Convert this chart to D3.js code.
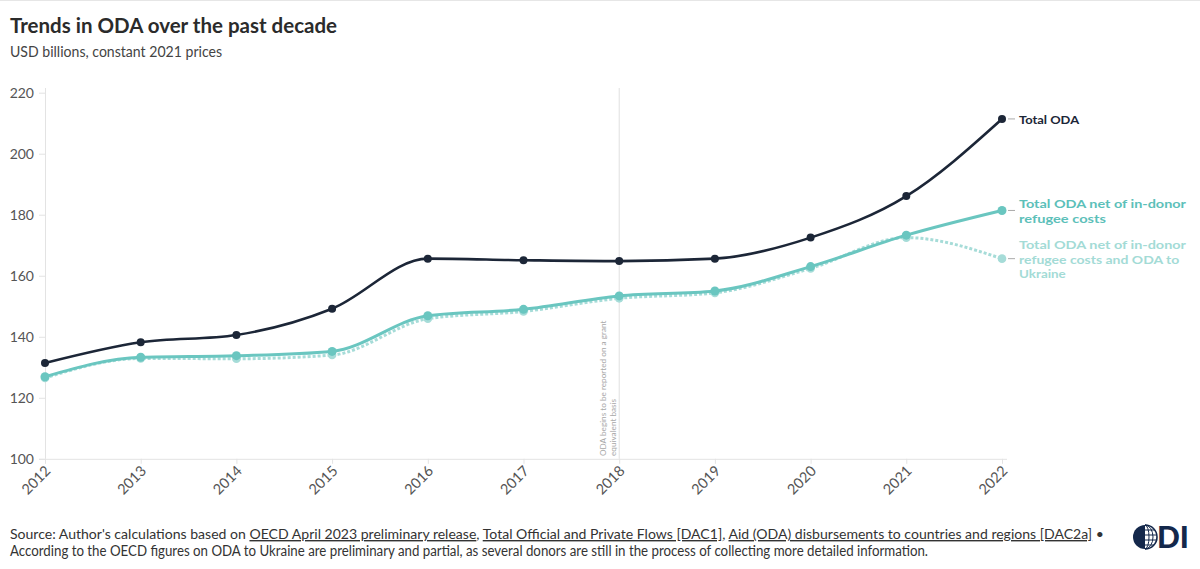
<!DOCTYPE html>
<html>
<head>
<meta charset="utf-8">
<script src="https://cdn.jsdelivr.net/npm/d3@7"></script>
<style>
  html, body { margin: 0; padding: 0; background: #fff; }
  svg { display: block; font-family: Lato, "Noto Sans", sans-serif; }
</style>
</head>
<body>
<svg id="chart" width="1200" height="569"></svg>
<script>
// ---- data ----
const years = [2012, 2013, 2014, 2015, 2016, 2017, 2018, 2019, 2020, 2021, 2022];
const totalODA = [131.4, 138.2, 140.6, 149.2, 165.6, 165.1, 164.8, 165.6, 172.5, 186.1, 211.4];
const netRefugee = [126.9, 133.3, 133.8, 135.2, 146.9, 149.0, 153.4, 155.0, 163.0, 173.3, 181.4];
const netRefugeeUkraine = [126.5, 132.9, 132.8, 134.0, 145.9, 148.3, 152.6, 154.4, 162.4, 172.5, 165.6];
const yTicks = [100, 120, 140, 160, 180, 200, 220];
const seriesNames = ["Total ODA", "Total ODA net of in-donor refugee costs", "Total ODA net of in-donor refugee costs and ODA to Ukraine"];
const seriesLabelLines = [["Total ODA"], ["Total ODA net of in-donor", "refugee costs"], ["Total ODA net of in-donor", "refugee costs and ODA to", "Ukraine"]];
const annotationYear = 2018;
const annotationLines = ["ODA begins to be reported on a grant", "equivalent basis"];
const titleText = "Trends in ODA over the past decade";
const subtitleText = "USD billions, constant 2021 prices";

// ---- setup ----
const svg = d3.select("#chart");
const W = 1200, H = 569;
const x = d3.scaleLinear().domain([2012, 2022]).range([45, 1002]);
const y = d3.scaleLinear().domain([100, 220]).range([458.8, 92.7]);

svg.append("line").attr("x1", 0).attr("x2", W).attr("y1", 0.5).attr("y2", 0.5)
  .attr("stroke", "#e6e6e6").attr("stroke-width", 1);

svg.append("text").attr("x", 10).attr("y", 33)
  .attr("font-size", 20.5).attr("font-weight", 700).attr("fill", "#2b2b2b")
  .attr("textLength", 327).attr("lengthAdjust", "spacingAndGlyphs")
  .text(titleText);
svg.append("text").attr("x", 10).attr("y", 57)
  .attr("font-size", 14.5).attr("fill", "#444")
  .attr("textLength", 212).attr("lengthAdjust", "spacingAndGlyphs")
  .text(subtitleText);

// ---- axes ----
const yAxis = svg.append("g").attr("transform", "translate(45,0)")
  .call(d3.axisLeft(y).tickValues(yTicks).tickSize(6).tickPadding(5).tickSizeOuter(0));
yAxis.select(".domain").attr("stroke", "#e3e3e3").attr("d", "M0.5,88V458.8");
yAxis.selectAll(".tick line").attr("stroke", "#e3e3e3");
yAxis.selectAll(".tick text").attr("font-size", 14).attr("fill", "#555").attr("font-family", "Lato, sans-serif");

const xAxis = svg.append("g").attr("transform", `translate(0,${y(100)})`)
  .call(d3.axisBottom(x).tickValues(years).tickFormat(d3.format("d")).tickSize(5).tickSizeOuter(0));
xAxis.select(".domain").attr("stroke", "#e3e3e3").attr("d", "M39,0.5H1007");
xAxis.selectAll(".tick line").attr("stroke", "#e3e3e3");
xAxis.selectAll(".tick text")
  .attr("font-size", 14.5).attr("fill", "#555").attr("font-family", "Lato, sans-serif")
  .attr("text-anchor", "end").attr("dy", 0)
  .attr("transform", "translate(6,13) rotate(-45)")
  .attr("y", 0).attr("x", 0);

// ---- annotation ----
const ax = x(annotationYear);
svg.append("line").attr("x1", ax).attr("x2", ax).attr("y1", 88).attr("y2", y(100))
  .attr("stroke", "#e0e0e0").attr("stroke-width", 1);
annotationLines.forEach((t, i) => {
  svg.append("text")
    .attr("transform", `translate(${ax - 13 + i * 9.5},456) rotate(-90)`)
    .attr("font-size", 8.2).attr("fill", "#a8a8a8")
    .text(t);
});

// ---- lines ----
const line = d3.line().x((d, i) => x(years[i])).y(d => y(d)).curve(d3.curveMonotoneX);
const cDark = "#1c2637", cTeal = "#6ac6c0", cLight = "#a6dcd8";

svg.append("path").datum(netRefugeeUkraine).attr("d", line)
  .attr("fill", "none").attr("stroke", cLight).attr("stroke-width", 3).attr("stroke-dasharray", "3,2");
svg.append("g").selectAll("circle").data(netRefugeeUkraine).join("circle")
  .attr("cx", (d, i) => x(years[i])).attr("cy", d => y(d)).attr("r", 4.3).attr("fill", cLight);

svg.append("path").datum(netRefugee).attr("d", line)
  .attr("fill", "none").attr("stroke", cTeal).attr("stroke-width", 3);
svg.append("g").selectAll("circle").data(netRefugee).join("circle")
  .attr("cx", (d, i) => x(years[i])).attr("cy", d => y(d)).attr("r", 4.5).attr("fill", cTeal);

svg.append("path").datum(totalODA).attr("d", line)
  .attr("fill", "none").attr("stroke", cDark).attr("stroke-width", 2.6);
svg.append("g").selectAll("circle").data(totalODA).join("circle")
  .attr("cx", (d, i) => x(years[i])).attr("cy", d => y(d)).attr("r", 4).attr("fill", cDark);

// ---- end labels ----
const seriesData = [totalODA, netRefugee, netRefugeeUkraine];
const labelColors = [cDark, "#5cc0b9", "#a3dbd6"];
const lastX = x(years[years.length - 1]);
seriesData.forEach((s, k) => {
  const ly = y(s[s.length - 1]);
  svg.append("line").attr("x1", lastX + 6).attr("x2", lastX + 13).attr("y1", ly).attr("y2", ly)
    .attr("stroke", "#aaa").attr("stroke-width", 1);
  const lines = seriesLabelLines[k];
  const lh = 14.6;
  const y0 = ly - (lines.length - 1) * lh / 2 + 5;
  lines.forEach((l, i) => {
    svg.append("text").attr("x", lastX + 17).attr("y", y0 + i * lh)
      .attr("font-size", 12.1).attr("font-weight", 700).attr("fill", labelColors[k])
      .attr("textLength", l.length * 6.68).attr("lengthAdjust", "spacingAndGlyphs")
      .text(l);
  });
});

// ---- footer ----
const f1 = svg.append("text").attr("x", 10).attr("y", 539).attr("font-size", 14.05).attr("fill", "#333");
[["Source: Author's calculations based on ", false],
 ["OECD April 2023 preliminary release", true], [", ", false],
 ["Total Official and Private Flows [DAC1]", true], [", ", false],
 ["Aid (ODA) disbursements to countries and regions [DAC2a]", true], [" \u2022", false]]
.forEach(([t, u]) => {
  const ts = f1.append("tspan").text(t);
  if (u) ts.attr("text-decoration", "underline");
});
svg.append("text").attr("x", 10).attr("y", 556).attr("font-size", 14.5).attr("fill", "#333")
  .attr("textLength", 918).attr("lengthAdjust", "spacingAndGlyphs")
  .text("According to the OECD figures on ODA to Ukraine are preliminary and partial, as several donors are still in the process of collecting more detailed information.");

// ---- logo ----
const logo = svg.append("g").attr("transform", "translate(1145,537)");
const navy = "#14284b";
logo.append("path").attr("d", "M0,-12 A12,12 0 0,0 0,12 Z").attr("fill", navy);
logo.append("path").attr("d", "M0,-12 A12,12 0 0,1 0,12").attr("fill", "none").attr("stroke", navy).attr("stroke-width", 1.6);
[-7, -2, 3, 8].forEach(v => {
  const hw = Math.sqrt(Math.max(0, 144 - v * v));
  logo.append("line").attr("x1", 0).attr("x2", hw).attr("y1", v).attr("y2", v).attr("stroke", navy).attr("stroke-width", 1);
});
[4, 8].forEach(r => {
  logo.append("path").attr("d", `M0,-12 A${r},12 0 0,1 0,12`).attr("fill", "none").attr("stroke", navy).attr("stroke-width", 1);
});
svg.append("text").attr("x", 1157).attr("y", 548).attr("font-size", 30).attr("font-weight", 900)
  .attr("fill", navy).attr("font-family", "Lato, sans-serif").text("DI");
</script>
</body>
</html>
